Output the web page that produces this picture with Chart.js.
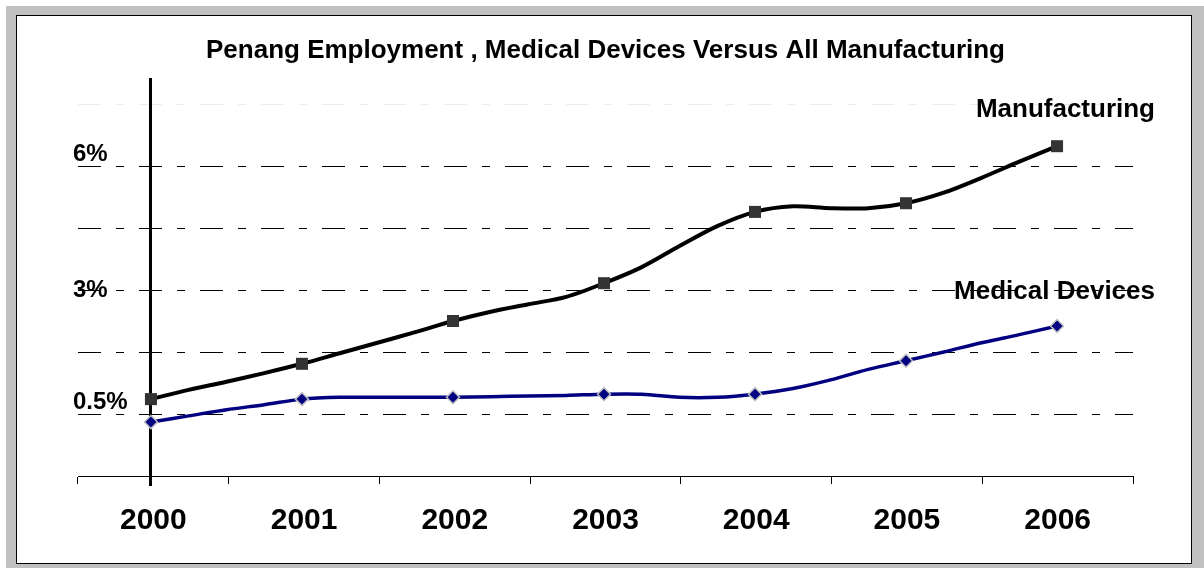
<!DOCTYPE html>
<html>
<head>
<meta charset="utf-8">
<script src="https://cdn.jsdelivr.net/npm/chart.js@4.4.1/dist/chart.umd.min.js"></script>
<style>
  html, body { margin: 0; padding: 0; background: #fff; }
  #frame { position: absolute; left: 6px; top: 6px; width: 1198px; height: 562px; background: #c0c0c0; }
  #panel { position: absolute; left: 16px; top: 15px; width: 1176px; height: 549px; box-sizing: border-box; border: 1px solid #000; background: #fff; }
  #chart { position: absolute; left: 0; top: 0; }
</style>
</head>
<body>
<div id="frame"></div>
<div id="panel"></div>
<canvas id="chart" width="1204" height="568"></canvas>
<script>
const years = ['2000', '2001', '2002', '2003', '2004', '2005', '2006']

// quarterly readings, a marker sits on every 4th one (the year)
const manufacturing = [
  1.24, 1.39, 1.52, 1.66,
  1.81, 1.98, 2.15, 2.32,
  2.50, 2.65, 2.77, 2.89,
  3.11, 3.37, 3.71, 4.03,
  4.26, 4.35, 4.32, 4.32,
  4.40, 4.57, 4.81, 5.07,
  5.32
]
const medicalDevices = [
  0.87, 0.97, 1.07, 1.15,
  1.24, 1.27, 1.27, 1.27,
  1.27, 1.28, 1.29, 1.30,
  1.32, 1.32, 1.27, 1.27,
  1.32, 1.41, 1.55, 1.72,
  1.86, 2.00, 2.15, 2.28,
  2.42
]

const gridValues = [1, 2, 3, 4, 5, 6]
const tickValues = [1, 3, 5]
const tickLabels = ['0.5%', '3%', '6%']
const seriesNames = ['Manufacturing', 'Medical Devices']

const FONT = 'Arial, "Liberation Sans", sans-serif'
Chart.defaults.font.family = FONT
Chart.defaults.color = '#000'

function toPoints(values) {
  return values.map((v, i) => ({ x: i / 4, y: v }))
}

const markerAtYear = (r) => (ctx) => (ctx.dataIndex % 4 === 0 ? r : 0)

const overlay = {
  id: 'overlay',
  beforeDatasetsDraw(chart) {
    const { ctx, chartArea, scales } = chart
    const x = Math.round(scales.xq.getPixelForValue(0)) - 0.5
    ctx.save()
    ctx.strokeStyle = '#000'
    ctx.lineWidth = 3
    ctx.beginPath()
    ctx.moveTo(x, chartArea.top)
    ctx.lineTo(x, chartArea.bottom + 10)
    ctx.stroke()
    ctx.restore()
  },
  afterDraw(chart, args, opts) {
    const { ctx, chartArea, scales } = chart
    ctx.save()
    ctx.fillStyle = '#000'
    ctx.textBaseline = 'middle'
    ctx.font = 'bold 24px ' + FONT
    ctx.textAlign = 'left'
    tickValues.forEach((v, i) => {
      ctx.fillText(tickLabels[i], chartArea.left - 5, scales.y.getPixelForValue(v) + opts.tickOffsets[i])
    })
    ctx.font = 'bold 26px ' + FONT
    ctx.textAlign = 'right'
    seriesNames.forEach((name, i) => {
      ctx.fillText(name, chartArea.right + 22, scales.y.getPixelForValue(opts.nameAt[i]))
    })
    ctx.restore()
  }
}

new Chart(document.getElementById('chart'), {
  type: 'line',
  data: {
    labels: years,
    datasets: [
      {
        label: seriesNames[0],
        data: toPoints(manufacturing),
        xAxisID: 'xq',
        borderColor: '#000',
        borderWidth: 4,
        tension: 0.3,
        pointStyle: 'rect',
        pointRadius: markerAtYear(8.5),
        pointHoverRadius: markerAtYear(8.5),
        pointBackgroundColor: '#333',
        pointBorderWidth: 0
      },
      {
        label: seriesNames[1],
        data: toPoints(medicalDevices),
        xAxisID: 'xq',
        borderColor: '#000080',
        borderWidth: 3.5,
        tension: 0.3,
        pointStyle: 'rectRot',
        pointRadius: markerAtYear(6.5),
        pointHoverRadius: markerAtYear(6.5),
        pointBackgroundColor: '#000080',
        pointBorderColor: '#c0c0c0',
        pointBorderWidth: 1.5
      }
    ]
  },
  options: {
    responsive: false,
    animation: false,
    layout: { padding: { top: 22, left: 78, right: 71, bottom: 10 } },
    plugins: {
      legend: { display: false },
      tooltip: { enabled: false },
      title: {
        display: true,
        text: 'Penang Employment , Medical Devices Versus All Manufacturing',
        color: '#000',
        font: { size: 26, weight: 'bold' },
        padding: { top: 13.4, bottom: 11.4 }
      },
      overlay: { tickOffsets: [-12, 0, -12], nameAt: [5.9, 2.97] }
    },
    scales: {
      x: {
        type: 'category',
        offset: true,
        grid: { offset: true, drawOnChartArea: false, drawTicks: true, tickLength: 8, tickColor: '#000', tickWidth: 1 },
        border: { display: true, color: '#000', width: 1 },
        ticks: { font: { size: 30, weight: 'bold' }, color: '#000', padding: 19, maxRotation: 0 }
      },
      xq: {
        type: 'linear',
        display: false,
        min: -0.483,
        max: 6.503
      },
      y: {
        type: 'linear',
        min: 0,
        max: 6.42,
        afterBuildTicks: (scale) => { scale.ticks = gridValues.map(v => ({ value: v })) },
        ticks: { display: false },
        grid: {
          drawTicks: false,
          lineWidth: 1,
          color: (ctx) => (ctx.tick && ctx.tick.value === 6 ? '#ececec' : '#000')
        },
        border: { display: false, dash: [23, 15, 8, 15] }
      }
    }
  },
  plugins: [overlay]
})
</script>
</body>
</html>
